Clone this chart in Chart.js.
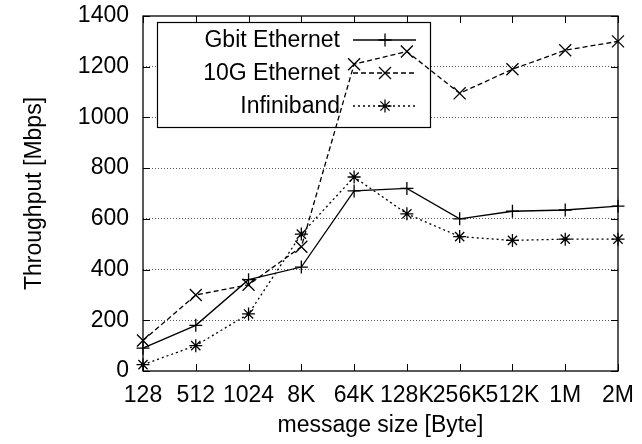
<!DOCTYPE html>
<html><head><meta charset="utf-8">
<script src="https://cdn.jsdelivr.net/npm/chart.js@4"></script>
<style>html,body{margin:0;padding:0;background:#fff}canvas{display:block}</style>
</head><body>
<canvas id="c" width="642" height="444"></canvas>
<script>
const categories = ['128','512','1024','8K','64K','128K','256K','512K','1M','2M'];
const gbitEthernet = [90,180,360,410,710,720,600,630,635,650];
const tenGEthernet = [120,300,340,490,1210,1260,1095,1190,1265,1300];
const infiniband = [25,100,225,540,765,620,530,515,520,520];
const seriesNames = ['Gbit Ethernet','10G Ethernet','Infiniband'];
const yMin = 0, yMax = 1400, yStep = 200;
const xTitle = 'message size [Byte]';
const yTitle = 'Throughput [Mbps]';

const FONT = '"Liberation Sans", Arial, Helvetica, sans-serif';
const FS = 23;

const frame = {
  id: 'frame',
  beforeDatasetsDraw(chart) {
    const ctx = chart.ctx, a = chart.chartArea;
    const xs = chart.scales.x, ys = chart.scales.y;
    ctx.save();
    // legend box
    const lx = 157, ly = 22, lw = 273, lh = 105;
    ctx.fillStyle = '#fff';
    ctx.fillRect(lx, ly, lw, lh);
    ctx.strokeStyle = '#000'; ctx.lineWidth = 1.2; ctx.setLineDash([]);
    ctx.strokeRect(lx + 0.5, ly + 0.5, lw, lh);
    const rows = [40, 73, 106];
    ctx.font = FS + 'px ' + FONT;
    ctx.textAlign = 'right'; ctx.textBaseline = 'middle';
    chart.data.datasets.forEach((ds, i) => {
      const y = rows[i];
      ctx.fillStyle = '#000';
      ctx.fillText(ds.label, 340, y + 1);
      ctx.strokeStyle = '#000'; ctx.lineWidth = ds.borderWidth;
      ctx.setLineDash(ds.borderDash || []);
      ctx.beginPath(); ctx.moveTo(353, y); ctx.lineTo(416, y); ctx.stroke();
      ctx.setLineDash([]);
      Chart.helpers.drawPoint(ctx, {pointStyle: ds.pointStyle, radius: ds.pointRadius, rotation: 0, borderWidth: ds.pointBorderWidth}, 385, y);
    });
    // border
    ctx.setLineDash([]);
    ctx.strokeStyle = '#000'; ctx.lineWidth = 1.3;
    ctx.strokeRect(a.left, a.top, a.right - a.left, a.bottom - a.top);
    // inward ticks
    ctx.lineWidth = 1;
    const tl = 7;
    ctx.beginPath();
    xs.ticks.forEach((t, i) => {
      const px = Math.round(xs.getPixelForTick(i)) + 0.5;
      ctx.moveTo(px, a.bottom); ctx.lineTo(px, a.bottom - tl);
      ctx.moveTo(px, a.top); ctx.lineTo(px, a.top + tl);
    });
    ys.ticks.forEach((t, i) => {
      const py = Math.round(ys.getPixelForTick(i)) + 0.5;
      ctx.moveTo(a.left, py); ctx.lineTo(a.left + tl, py);
      ctx.moveTo(a.right, py); ctx.lineTo(a.right - tl, py);
    });
    ctx.stroke();
    ctx.restore();
  }
};

const common = {borderColor:'#000', backgroundColor:'#000', pointBorderColor:'#000', borderWidth:1.3, pointBorderWidth:1.3, fill:false, tension:0};

new Chart(document.getElementById('c'), {
  type: 'line',
  data: {
    labels: categories,
    datasets: [
      Object.assign({label: seriesNames[0], data: gbitEthernet, pointStyle: 'cross', pointRadius: 6.5, pointHoverRadius: 6.5}, common),
      Object.assign({label: seriesNames[1], data: tenGEthernet, pointStyle: 'crossRot', borderDash: [5,3], pointRadius: 8.5, pointHoverRadius: 8.5}, common),
      Object.assign({label: seriesNames[2], data: infiniband, pointStyle: 'star', borderDash: [2,3], pointRadius: 6.5, pointHoverRadius: 6.5}, common)
    ]
  },
  plugins: [frame],
  options: {
    responsive: false,
    animation: false,
    devicePixelRatio: 1,
    layout: {padding: {left: 21, right: 24, top: 16, bottom: 0}},
    plugins: {legend: {display: false}, tooltip: {enabled: false}},
    scales: {
      x: {
        type: 'category',
        offset: false,
        grid: {display: false, drawTicks: false},
        border: {display: false},
        ticks: {color: '#000', font: {family: FONT, size: FS}, padding: 11, maxRotation: 0, minRotation: 0, autoSkip: false},
        title: {display: true, text: xTitle, color: '#000', font: {family: FONT, size: FS}, padding: {top: 0, bottom: 5}},
        afterFit(s) { s.height = 73; s.paddingLeft = 0; s.paddingRight = 0; }
      },
      y: {
        min: yMin, max: yMax,
        grid: {
          drawTicks: false,
          color: (c) => (c.tick && (c.tick.value === yMin || c.tick.value === yMax)) ? 'rgba(0,0,0,0)' : '#555',
          lineWidth: 1,
        },
        border: {display: false, dash: [1,2]},
        ticks: {stepSize: yStep, color: '#000', font: {family: FONT, size: FS}, padding: 14, callback: (v) => String(v)},
        title: {display: true, text: yTitle, color: '#000', font: {family: FONT, size: FS}, padding: {top: 0, bottom: 0}},
        afterFit(s) { s.width = 122; s.paddingTop = 0; s.paddingBottom = 0; }
      }
    }
  }
});
</script>
</body></html>
